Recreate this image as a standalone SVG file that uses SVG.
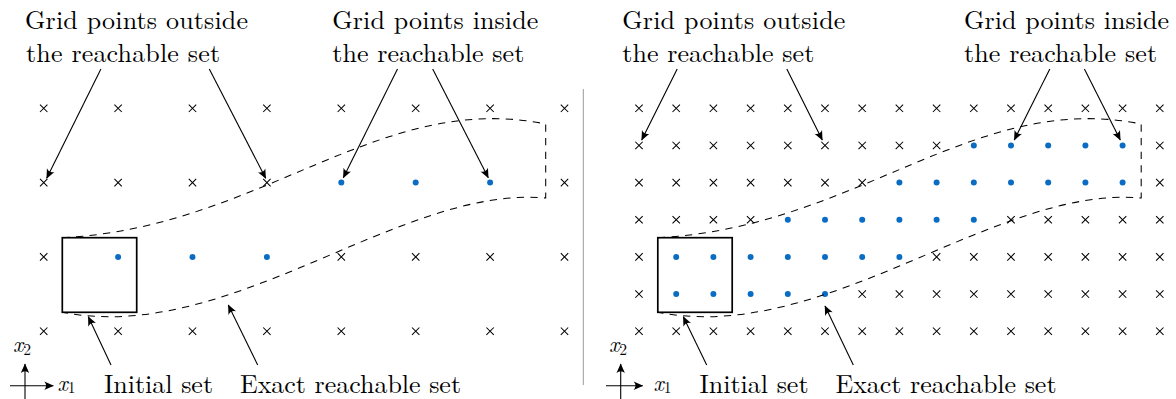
<svg xmlns="http://www.w3.org/2000/svg" width="1176" height="399" viewBox="0 0 1176 399">
<style>
text{font-family:Latin Modern Roman,Liberation Serif,serif;fill:#000}
.lbl{font-size:26px}
.ax{font-style:italic}
.arr{fill:none;stroke:#000;stroke-width:1.1;marker-end:url(#ah)}
.set{fill:none;stroke:#000;stroke-width:1.05;stroke-dasharray:7.3 6.3}
.sq{fill:none;stroke:#000;stroke-width:1.7}
.sep{stroke:#999;stroke-width:1}
</style>
<defs>
<marker id="ah" markerUnits="userSpaceOnUse" viewBox="-10 -5 11 10" refX="0" refY="0" markerWidth="11" markerHeight="10" orient="auto" overflow="visible">
<path d="M0.5,0 L-9,-4.2 Q-5.5,0 -9,4.2 Z" fill="#000"/>
</marker>
<path id="cr" d="M-3.7,-3.7L3.7,3.7M-3.7,3.7L3.7,-3.7" stroke="#000" stroke-width="1.05" fill="none"/>
<circle id="dt" r="3" fill="#0a6cc2"/>
</defs>

<line class="sep" x1="583.3" y1="89" x2="583.3" y2="385"/>

<!-- LEFT PANEL -->
<g id="left-grid">
<use href="#cr" x="43.7" y="108.3"/><use href="#cr" x="118.1" y="108.3"/><use href="#cr" x="192.5" y="108.3"/><use href="#cr" x="266.9" y="108.3"/><use href="#cr" x="341.3" y="108.3"/><use href="#cr" x="415.7" y="108.3"/><use href="#cr" x="490.1" y="108.3"/><use href="#cr" x="564.5" y="108.3"/>
<use href="#cr" x="43.7" y="182.6"/><use href="#cr" x="118.1" y="182.6"/><use href="#cr" x="192.5" y="182.6"/><use href="#cr" x="266.9" y="182.6"/><use href="#dt" x="341.3" y="182.6"/><use href="#dt" x="415.7" y="182.6"/><use href="#dt" x="490.1" y="182.6"/><use href="#cr" x="564.5" y="182.6"/>
<use href="#cr" x="43.7" y="256.9"/><use href="#dt" x="118.1" y="256.9"/><use href="#dt" x="192.5" y="256.9"/><use href="#dt" x="266.9" y="256.9"/><use href="#cr" x="341.3" y="256.9"/><use href="#cr" x="415.7" y="256.9"/><use href="#cr" x="490.1" y="256.9"/><use href="#cr" x="564.5" y="256.9"/>
<use href="#cr" x="43.7" y="331.2"/><use href="#cr" x="118.1" y="331.2"/><use href="#cr" x="192.5" y="331.2"/><use href="#cr" x="266.9" y="331.2"/><use href="#cr" x="341.3" y="331.2"/><use href="#cr" x="415.7" y="331.2"/><use href="#cr" x="490.1" y="331.2"/><use href="#cr" x="564.5" y="331.2"/>
</g>
<g id="left-reach-set">
<path class="set" d="M62.3,237.7 C260,228 380,90 545.7,124 L545.7,198 C400,185 230,345 62.3,312.3"/>
</g>
<g id="left-initial-set">
<rect class="sq" x="62.3" y="237.7" width="74.4" height="74.6"/>
</g>
<g id="left-labels" font-family="Latin Modern Roman, Liberation Serif, serif" font-size="26">
<text class="lbl" x="25" y="28.5" textLength="223" lengthAdjust="spacing">Grid points outside</text>
<text class="lbl" x="26" y="62" textLength="194" lengthAdjust="spacing">the reachable set</text>
<text class="lbl" x="332.3" y="28.5" textLength="206" lengthAdjust="spacing">Grid points inside</text>
<text class="lbl" x="332.3" y="62" textLength="192" lengthAdjust="spacing">the reachable set</text>
<text class="lbl" x="104" y="393.3" textLength="109" lengthAdjust="spacing">Initial set</text>
<text class="lbl" x="240" y="393.3" textLength="221" lengthAdjust="spacing">Exact reachable set</text>
</g>
<g id="left-axes" font-family="Latin Modern Roman, Liberation Serif, serif">
<line class="arr" x1="25" y1="399" x2="25" y2="364"/>
<line class="arr" x1="10" y1="385.7" x2="53.3" y2="385.7"/>
<text class="ax" x="13" y="352" font-size="22" font-style="italic">x<tspan font-size="15.5" font-style="normal" dy="3">2</tspan></text>
<text class="ax" x="57.5" y="390.7" font-size="22" font-style="italic">x<tspan font-size="15.5" font-style="normal" dy="2.5">1</tspan></text>
</g>

<!-- RIGHT PANEL -->
<g id="right-grid">
<use href="#cr" x="639" y="108.3"/><use href="#cr" x="676.2" y="108.3"/><use href="#cr" x="713.4" y="108.3"/><use href="#cr" x="750.6" y="108.3"/><use href="#cr" x="787.8" y="108.3"/><use href="#cr" x="825" y="108.3"/><use href="#cr" x="862.2" y="108.3"/><use href="#cr" x="899.4" y="108.3"/><use href="#cr" x="936.6" y="108.3"/><use href="#cr" x="973.8" y="108.3"/><use href="#cr" x="1011" y="108.3"/><use href="#cr" x="1048.2" y="108.3"/><use href="#cr" x="1085.4" y="108.3"/><use href="#cr" x="1122.6" y="108.3"/><use href="#cr" x="1159.8" y="108.3"/>
<use href="#cr" x="639" y="145.45"/><use href="#cr" x="676.2" y="145.45"/><use href="#cr" x="713.4" y="145.45"/><use href="#cr" x="750.6" y="145.45"/><use href="#cr" x="787.8" y="145.45"/><use href="#cr" x="825" y="145.45"/><use href="#cr" x="862.2" y="145.45"/><use href="#cr" x="899.4" y="145.45"/><use href="#cr" x="936.6" y="145.45"/><use href="#dt" x="973.8" y="145.45"/><use href="#dt" x="1011" y="145.45"/><use href="#dt" x="1048.2" y="145.45"/><use href="#dt" x="1085.4" y="145.45"/><use href="#dt" x="1122.6" y="145.45"/><use href="#cr" x="1159.8" y="145.45"/>
<use href="#cr" x="639" y="182.6"/><use href="#cr" x="676.2" y="182.6"/><use href="#cr" x="713.4" y="182.6"/><use href="#cr" x="750.6" y="182.6"/><use href="#cr" x="787.8" y="182.6"/><use href="#cr" x="825" y="182.6"/><use href="#cr" x="862.2" y="182.6"/><use href="#dt" x="899.4" y="182.6"/><use href="#dt" x="936.6" y="182.6"/><use href="#dt" x="973.8" y="182.6"/><use href="#dt" x="1011" y="182.6"/><use href="#dt" x="1048.2" y="182.6"/><use href="#dt" x="1085.4" y="182.6"/><use href="#dt" x="1122.6" y="182.6"/><use href="#cr" x="1159.8" y="182.6"/>
<use href="#cr" x="639" y="219.75"/><use href="#cr" x="676.2" y="219.75"/><use href="#cr" x="713.4" y="219.75"/><use href="#cr" x="750.6" y="219.75"/><use href="#dt" x="787.8" y="219.75"/><use href="#dt" x="825" y="219.75"/><use href="#dt" x="862.2" y="219.75"/><use href="#dt" x="899.4" y="219.75"/><use href="#dt" x="936.6" y="219.75"/><use href="#dt" x="973.8" y="219.75"/><use href="#cr" x="1011" y="219.75"/><use href="#cr" x="1048.2" y="219.75"/><use href="#cr" x="1085.4" y="219.75"/><use href="#cr" x="1122.6" y="219.75"/><use href="#cr" x="1159.8" y="219.75"/>
<use href="#cr" x="639" y="256.9"/><use href="#dt" x="676.2" y="256.9"/><use href="#dt" x="713.4" y="256.9"/><use href="#dt" x="750.6" y="256.9"/><use href="#dt" x="787.8" y="256.9"/><use href="#dt" x="825" y="256.9"/><use href="#dt" x="862.2" y="256.9"/><use href="#dt" x="899.4" y="256.9"/><use href="#cr" x="936.6" y="256.9"/><use href="#cr" x="973.8" y="256.9"/><use href="#cr" x="1011" y="256.9"/><use href="#cr" x="1048.2" y="256.9"/><use href="#cr" x="1085.4" y="256.9"/><use href="#cr" x="1122.6" y="256.9"/><use href="#cr" x="1159.8" y="256.9"/>
<use href="#cr" x="639" y="294.05"/><use href="#dt" x="676.2" y="294.05"/><use href="#dt" x="713.4" y="294.05"/><use href="#dt" x="750.6" y="294.05"/><use href="#dt" x="787.8" y="294.05"/><use href="#dt" x="825" y="294.05"/><use href="#cr" x="862.2" y="294.05"/><use href="#cr" x="899.4" y="294.05"/><use href="#cr" x="936.6" y="294.05"/><use href="#cr" x="973.8" y="294.05"/><use href="#cr" x="1011" y="294.05"/><use href="#cr" x="1048.2" y="294.05"/><use href="#cr" x="1085.4" y="294.05"/><use href="#cr" x="1122.6" y="294.05"/><use href="#cr" x="1159.8" y="294.05"/>
<use href="#cr" x="639" y="331.2"/><use href="#cr" x="676.2" y="331.2"/><use href="#cr" x="713.4" y="331.2"/><use href="#cr" x="750.6" y="331.2"/><use href="#cr" x="787.8" y="331.2"/><use href="#cr" x="825" y="331.2"/><use href="#cr" x="862.2" y="331.2"/><use href="#cr" x="899.4" y="331.2"/><use href="#cr" x="936.6" y="331.2"/><use href="#cr" x="973.8" y="331.2"/><use href="#cr" x="1011" y="331.2"/><use href="#cr" x="1048.2" y="331.2"/><use href="#cr" x="1085.4" y="331.2"/><use href="#cr" x="1122.6" y="331.2"/><use href="#cr" x="1159.8" y="331.2"/>
</g>
<g id="right-reach-set">
<path class="set" d="M657.8,237.7 C855.5,228 975.5,90 1141.2,124 L1141.2,198 C995.5,185 825.5,345 657.8,312.3"/>
</g>
<g id="right-initial-set">
<rect class="sq" x="657.8" y="237.7" width="74.4" height="74.6"/>
</g>
<g id="right-labels" font-family="Latin Modern Roman, Liberation Serif, serif" font-size="26">
<text class="lbl" x="622.3" y="28.5" textLength="223" lengthAdjust="spacing">Grid points outside</text>
<text class="lbl" x="622.3" y="62" textLength="192" lengthAdjust="spacing">the reachable set</text>
<text class="lbl" x="964" y="28.5" textLength="205" lengthAdjust="spacing">Grid points inside</text>
<text class="lbl" x="964" y="62" textLength="193" lengthAdjust="spacing">the reachable set</text>
<text class="lbl" x="699.5" y="393.3" textLength="109" lengthAdjust="spacing">Initial set</text>
<text class="lbl" x="835.5" y="393.3" textLength="221" lengthAdjust="spacing">Exact reachable set</text>
</g>
<g id="right-axes" font-family="Latin Modern Roman, Liberation Serif, serif">
<line class="arr" x1="620.7" y1="399" x2="620.7" y2="364"/>
<line class="arr" x1="606" y1="385.7" x2="642.7" y2="385.7"/>
<text class="ax" x="609" y="352" font-size="22" font-style="italic">x<tspan font-size="15.5" font-style="normal" dy="3">2</tspan></text>
<text class="ax" x="653.5" y="390.7" font-size="22" font-style="italic">x<tspan font-size="15.5" font-style="normal" dy="2.5">1</tspan></text>
</g>

<g id="connectors">
<line class="arr" x1="100.9" y1="69" x2="46.7" y2="178.3"/>
<line class="arr" x1="209.3" y1="69" x2="265.7" y2="178.3"/>
<line class="arr" x1="397.5" y1="69" x2="343.3" y2="177.7"/>
<line class="arr" x1="432.7" y1="69" x2="488.3" y2="177.7"/>
<line class="arr" x1="111" y1="365" x2="88.3" y2="316.7"/>
<line class="arr" x1="257.7" y1="365" x2="228.3" y2="305"/>
<line class="arr" x1="677.2" y1="69" x2="641.7" y2="140"/>
<line class="arr" x1="786.8" y1="69" x2="822.3" y2="140"/>
<line class="arr" x1="1049.8" y1="69" x2="1014.3" y2="140"/>
<line class="arr" x1="1084.4" y1="69" x2="1120.3" y2="140"/>
<line class="arr" x1="706.7" y1="365" x2="683.3" y2="316.7"/>
<line class="arr" x1="853.3" y1="365" x2="825" y2="306"/>
</g>
</svg>
